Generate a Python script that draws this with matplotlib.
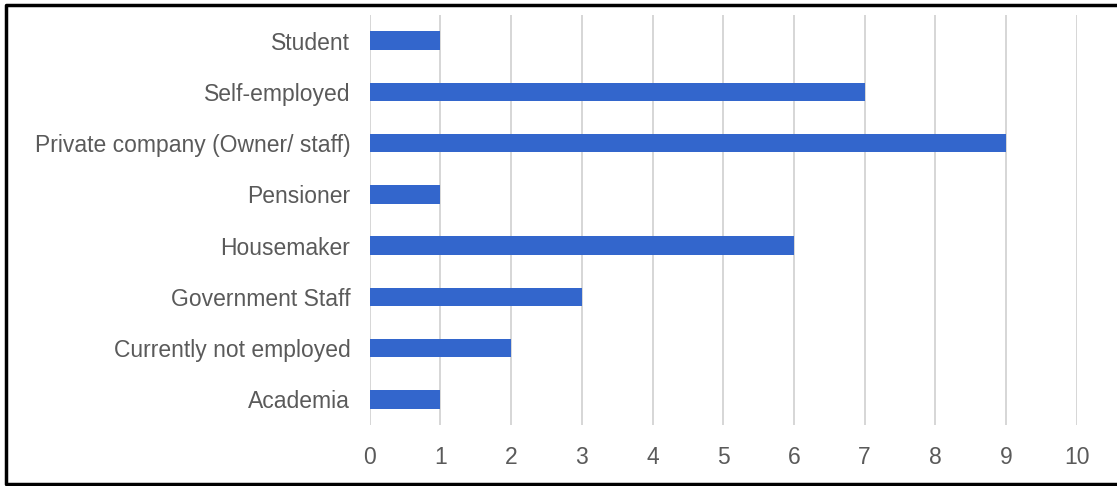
import matplotlib.pyplot as plt
from matplotlib.lines import Line2D

# dados
categorias = ['Academia', 'Currently not employed', 'Government Staff', 'Housemaker',
              'Pensioner', 'Private company (Owner/ staff)', 'Self-employed', 'Student']
valores = [1, 2, 3, 6, 1, 9, 7, 1]
ticks_x = list(range(0, 11))

plt.rcParams['font.family'] = ['Liberation Sans', 'DejaVu Sans']

fig = plt.figure(figsize=(11.17, 4.86), dpi=100)
ax = fig.add_axes([0.331, 0.1255, 0.633, 0.8435])

ax.barh(categorias, valores, height=0.36, color='#3366cc', zorder=3)
ax.set_xlim(0, 10)
ax.set_ylim(-0.5, len(categorias) - 0.5)
ax.set_xticks(ticks_x)
ax.grid(axis='x', color='#d0d0d0', linewidth=1.2, zorder=0)
ax.grid(axis='y', visible=False)
for s in ax.spines.values():
    s.set_visible(False)
ax.tick_params(axis='both', length=0, colors='#5a5a5a', labelsize=16.5)
ax.tick_params(axis='y', pad=14)
ax.tick_params(axis='x', pad=15)

# moldura preta (esquerda, topo, base)
fig.lines.append(Line2D([0.998, 0.005, 0.005, 0.998], [0.99, 0.99, 0.004, 0.004],
                        transform=fig.transFigure, color='black', linewidth=2.5))

fig.savefig('out.png', dpi=100)
